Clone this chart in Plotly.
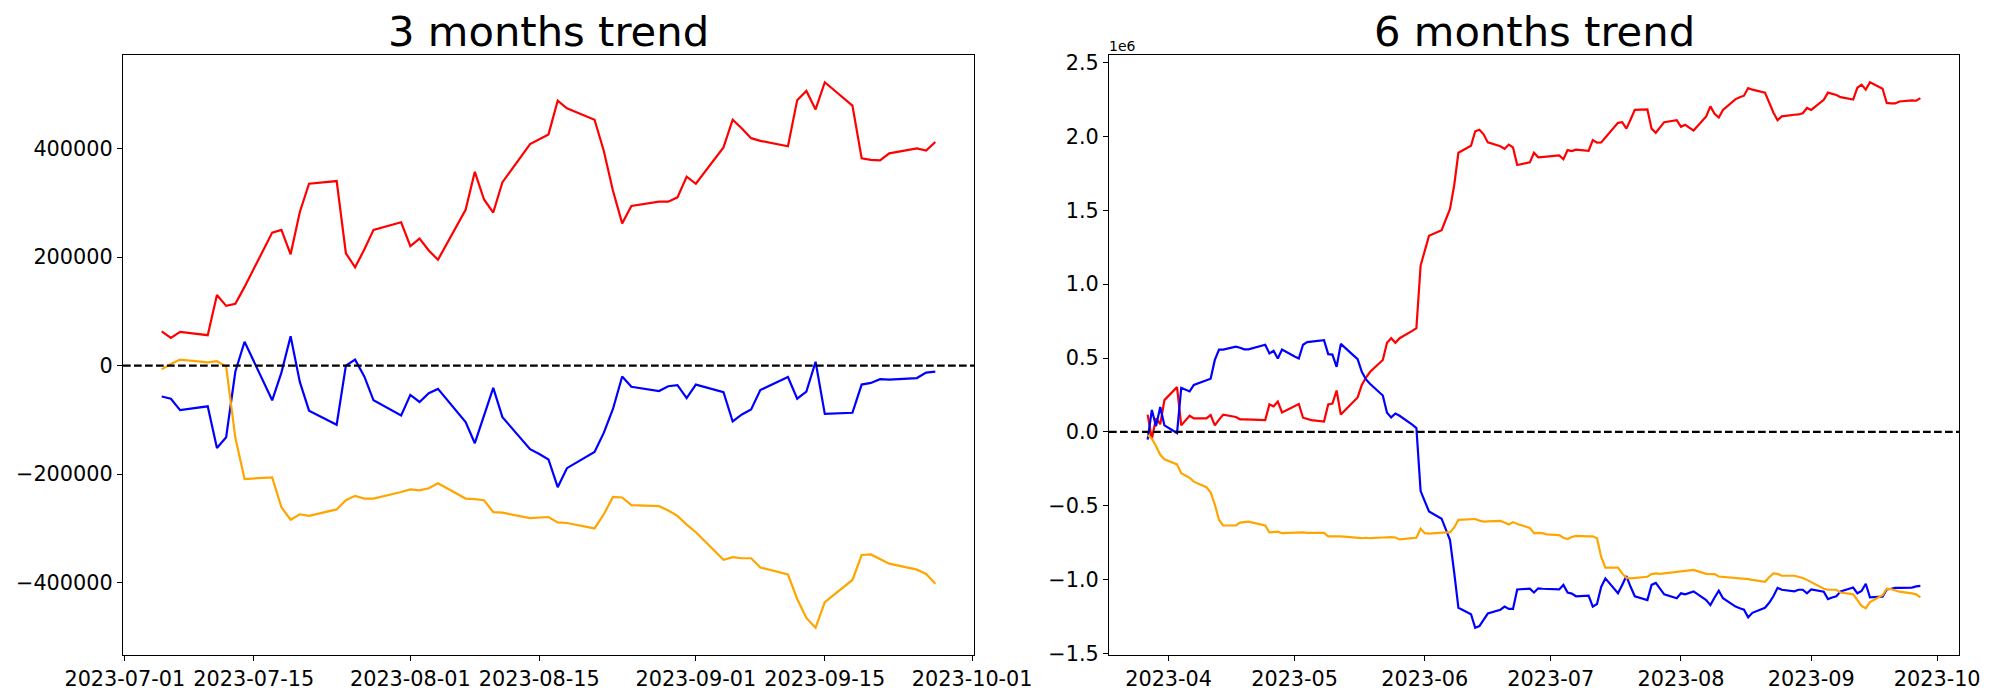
import pandas as pd
import plotly.graph_objects as go

# ---------------- data: 3 months ----------------
dates_3m = pd.bdate_range("2023-07-05", "2023-09-27")
red_3m = [63000, 51000, 62000, 56000, 130000, 110000, 114000, 145000, 245000, 250000,
          205000, 283000, 335000, 340000, 207000, 181000, 214000, 250000, 264000,
          220000, 234000, 212000, 195000, 287000, 357000, 306000, 282000, 338000, 408000,
          417000, 426000, 488000, 474000, 453000, 396000, 322000, 262000, 294000, 302000,
          302000, 310000, 348000,
          335000, 402000, 453000, 437000, 419000, 414000, 404000, 489000, 506000, 472000,
          522000, 479000, 382000, 379000, 378000, 391000, 400000, 396000, 412000]
blue_3m = [-57000, -61000, -82000, -75000, -152000, -132000, -11000, 44000, -64000, -13000,
           54000, -30000, -83000, -109000, 0, 11000, -20000, -64000, -92000,
           -54000, -67000, -51000, -43000, -104000, -143000, -91000, -41000, -95000, -154000,
           -163000, -173000, -224000, -189000, -159000, -124000, -80000, -20000, -39000, -47000,
           -38000, -36000, -60000,
           -35000, -49000, -103000, -90000, -81000, -45000, -21000, -61000, -48000, 7000,
           -89000, -87000, -35000, -32000, -25000, -26000, -23000, -13000, -11000]
orange_3m = [-7000, 3000, 11000, 6000, 8000, -2000, -133000, -209000, -206000, -261000,
             -284000, -274000, -277000, -265000, -248000, -240000, -245000, -245000, -233000,
             -228000, -230000, -226000, -217000, -245000, -246000, -248000, -270000, -271000,
             -281000, -280000, -279000, -289000, -290000, -300000, -274000, -242000, -243000,
             -257000, -259000, -267000, -277000, -293000,
             -307000, -358000, -353000, -355000, -355000, -372000, -385000, -430000, -465000,
             -483000, -436000, -395000, -349000, -348000, -356000, -365000, -376000, -384000,
             -402000]

# ---------------- data: 6 months (values in units of 1e6) ----------------
dates_6m = pd.bdate_range("2023-03-27", "2023-09-27")
red_6m = [0.117, -0.047, 0.091, 0.052, 0.215,
          0.303, 0.044, 0.078, 0.109, 0.091, 0.091, 0.114, 0.044, 0.083, 0.117,
          0.101, 0.085, 0.085, 0.083, 0.083, 0.080, 0.186, 0.173, 0.205, 0.132,
          0.176, 0.189, 0.096, 0.088, 0.080, 0.070, 0.186, 0.192, 0.280, 0.117,
          0.202, 0.233, 0.318, 0.368, 0.407, 0.487, 0.603, 0.634, 0.603, 0.634,
          0.684, 0.702, 1.126,
          1.225, 1.328, 1.365, 1.437, 1.510, 1.670, 1.890, 1.937, 2.035, 2.046, 2.015, 1.960,
          1.934, 1.916, 1.945, 1.926, 1.807, 1.825, 1.890, 1.859, 1.859, 1.864,
          1.872, 1.846, 1.908, 1.901, 1.911, 1.903, 1.976, 1.958, 1.960, 1.994,
          2.092, 2.097, 2.053, 2.115, 2.180, 2.183, 2.053, 2.025, 2.064, 2.097, 2.110,
          2.066, 2.079, 2.059, 2.040, 2.136, 2.204, 2.154, 2.128, 2.180,
          2.253, 2.266, 2.276, 2.328, 2.317, 2.297, 2.232, 2.162, 2.110, 2.136,
          2.147, 2.149, 2.157, 2.193,
          2.180, 2.248, 2.297, 2.289, 2.281, 2.266, 2.250, 2.330, 2.351, 2.317, 2.367,
          2.323, 2.227, 2.224, 2.224, 2.237, 2.245, 2.242, 2.260]
blue_6m = [-0.052, 0.148, 0.039, 0.168, 0.044,
           -0.008, 0.298, 0.285, 0.274, 0.318, 0.350, 0.360, 0.487, 0.557, 0.557,
           0.577, 0.570, 0.559, 0.559, 0.567, 0.590, 0.531, 0.549, 0.497, 0.557,
           0.510, 0.497, 0.590, 0.608, 0.611, 0.621, 0.526, 0.523, 0.440, 0.596,
           0.518, 0.492, 0.407, 0.355, 0.324, 0.246, 0.129, 0.098, 0.124, 0.109,
           0.049, 0.026, -0.401,
           -0.471, -0.539, -0.588, -0.660, -0.733, -0.953, -1.191, -1.235, -1.326, -1.315,
           -1.274, -1.230, -1.204, -1.183, -1.199, -1.199, -1.067, -1.062, -1.088, -1.059,
           -1.062, -1.062,
           -1.067, -1.036, -1.088, -1.095, -1.113, -1.108, -1.183, -1.165, -1.049, -0.992,
           -1.093, -1.036, -0.976, -1.049, -1.113, -1.139, -1.036, -1.023, -1.062, -1.100,
           -1.126,
           -1.093, -1.100, -1.088, -1.080, -1.139, -1.173, -1.121, -1.075, -1.126,
           -1.183, -1.194, -1.204, -1.256, -1.225, -1.191, -1.157, -1.113, -1.056, -1.069,
           -1.080, -1.069, -1.069, -1.093,
           -1.067, -1.082, -1.132, -1.121, -1.113, -1.080, -1.054, -1.093, -1.077, -1.028,
           -1.121, -1.116, -1.067, -1.062, -1.056, -1.056, -1.054, -1.046, -1.043]
orange_6m = [-0.021, -0.047, -0.096, -0.155, -0.186,
             -0.220, -0.280, -0.298, -0.311, -0.337, -0.375, -0.409, -0.492, -0.596, -0.634,
             -0.634, -0.614, -0.611, -0.608, -0.614, -0.634, -0.681, -0.681, -0.676, -0.686,
             -0.681, -0.678, -0.681, -0.684, -0.684, -0.684, -0.707, -0.709, -0.707, -0.707,
             -0.715, -0.720, -0.720, -0.717, -0.720, -0.715, -0.712, -0.712, -0.715, -0.728,
             -0.720, -0.717, -0.655,
             -0.686, -0.689, -0.681, -0.681, -0.681, -0.647, -0.596, -0.588, -0.590, -0.601,
             -0.608, -0.606, -0.603, -0.614, -0.627, -0.611, -0.624, -0.650, -0.686, -0.684,
             -0.686, -0.694,
             -0.699, -0.717, -0.725, -0.712, -0.704, -0.707, -0.707, -0.720, -0.847, -0.919,
             -0.919, -0.958, -0.989, -0.992, -0.989, -0.981, -0.963, -0.958, -0.961, -0.958,
             -0.950,
             -0.945, -0.945, -0.940, -0.935, -0.961, -0.961, -0.963, -0.979, -0.981,
             -0.987, -0.989, -0.992, -0.997, -1.002, -1.015, -0.984, -0.958, -0.961, -0.974,
             -0.974, -0.981, -0.989, -1.002,
             -1.018, -1.062, -1.069, -1.069, -1.069, -1.088, -1.100, -1.139, -1.178, -1.194,
             -1.152, -1.106, -1.062, -1.064, -1.075, -1.082, -1.093, -1.100, -1.121]

ticks_3m = ["2023-07-01", "2023-07-15", "2023-08-01", "2023-08-15", "2023-09-01", "2023-09-15", "2023-10-01"]
ticks_6m = ["2023-04-01", "2023-05-01", "2023-06-01", "2023-07-01", "2023-08-01", "2023-09-01", "2023-10-01"]
ticklabels_6m = ["2023-04", "2023-05", "2023-06", "2023-07", "2023-08", "2023-09", "2023-10"]
yticks_3m = [-400000, -200000, 0, 200000, 400000]
yticks_6m = [-1.5, -1.0, -0.5, 0.0, 0.5, 1.0, 1.5, 2.0, 2.5]

assert len(dates_3m) == len(red_3m) == len(blue_3m) == len(orange_3m)
assert len(dates_6m) == len(red_6m) == len(blue_6m) == len(orange_6m)

COLORS = {"red": "#ff0000", "blue": "#0000ff", "orange": "#ffa500"}
FONT = "DejaVu Sans"
LW = 2.2

# The page body has an 8px default margin; size the figure so it ends at 2000x700.
OFF = 8
W, H = 2000 - OFF, 700 - OFF


def fx(px):  # absolute page x pixel -> paper fraction
    return (px - OFF) / W


def fy(py):  # absolute page y pixel (from top) -> paper fraction
    return 1 - (py - OFF) / H


def minus(s):
    return s.replace("-", "\u2212")


def xrange_of(d):
    span = d[-1] - d[0]
    return [d[0] - span * 0.05, d[-1] + span * 0.05]


def yrange_of(*series):
    lo = min(min(s) for s in series)
    hi = max(max(s) for s in series)
    m = (hi - lo) * 0.05
    return [lo - m, hi + m]


fig = go.Figure()
for vals, col in [(red_3m, "red"), (blue_3m, "blue"), (orange_3m, "orange")]:
    fig.add_trace(go.Scatter(x=dates_3m, y=vals, mode="lines", xaxis="x", yaxis="y",
                             line=dict(color=COLORS[col], width=LW), showlegend=False,
                             hoverinfo="skip"))
for vals, col in [(red_6m, "red"), (blue_6m, "blue"), (orange_6m, "orange")]:
    fig.add_trace(go.Scatter(x=dates_6m, y=vals, mode="lines", xaxis="x2", yaxis="y2",
                             line=dict(color=COLORS[col], width=LW), showlegend=False,
                             hoverinfo="skip"))

axis_common = dict(showline=True, linecolor="black", linewidth=1.1, mirror=True,
                   ticks="outside", ticklen=5, tickwidth=1.1, tickcolor="black",
                   showgrid=False, zeroline=False, tickangle=0, automargin=False,
                   tickfont=dict(family=FONT, size=20.8, color="black"))

x3 = xrange_of(dates_3m)
x6 = xrange_of(dates_6m)
ydom = [fy(655), fy(55)]

fig.update_layout(
    width=W, height=H,
    margin=dict(l=0, r=0, t=0, b=0, pad=0),
    paper_bgcolor="white", plot_bgcolor="white",
    font=dict(family=FONT, color="black"),
    xaxis=dict(domain=[fx(123), fx(974)], anchor="y", range=[x3[0], x3[1]],
               tickvals=ticks_3m, ticktext=ticks_3m, **axis_common),
    yaxis=dict(domain=ydom, anchor="x", range=yrange_of(red_3m, blue_3m, orange_3m),
               tickvals=yticks_3m, ticktext=[minus(str(v)) for v in yticks_3m], **axis_common),
    xaxis2=dict(domain=[fx(1109), fx(1959)], anchor="y2", range=[x6[0], x6[1]],
                tickvals=ticks_6m, ticktext=ticklabels_6m, **axis_common),
    yaxis2=dict(domain=ydom, anchor="x2", range=yrange_of(red_6m, blue_6m, orange_6m),
                tickvals=yticks_6m, ticktext=[minus(f"{v:.1f}") for v in yticks_6m], **axis_common),
    shapes=[
        dict(type="line", xref="x domain", yref="y", x0=0, x1=1, y0=0, y1=0,
             line=dict(color="black", width=LW, dash="7.7px,3.3px"), layer="above"),
        dict(type="line", xref="x2 domain", yref="y2", x0=0, x1=1, y0=0, y1=0,
             line=dict(color="black", width=LW, dash="7.7px,3.3px"), layer="above"),
    ],
    annotations=[
        dict(text="3 months trend", xref="paper", yref="paper", x=fx(548.5), y=fy(31),
             xanchor="center", yanchor="middle", showarrow=False,
             font=dict(family=FONT, size=41.7, color="black")),
        dict(text="6 months trend", xref="paper", yref="paper", x=fx(1534), y=fy(31),
             xanchor="center", yanchor="middle", showarrow=False,
             font=dict(family=FONT, size=41.7, color="black")),
        dict(text="1e6", xref="paper", yref="paper", x=fx(1107), y=fy(46),
             xanchor="left", yanchor="middle", showarrow=False,
             font=dict(family=FONT, size=14, color="black")),
    ],
)

fig.write_html("out.html")
